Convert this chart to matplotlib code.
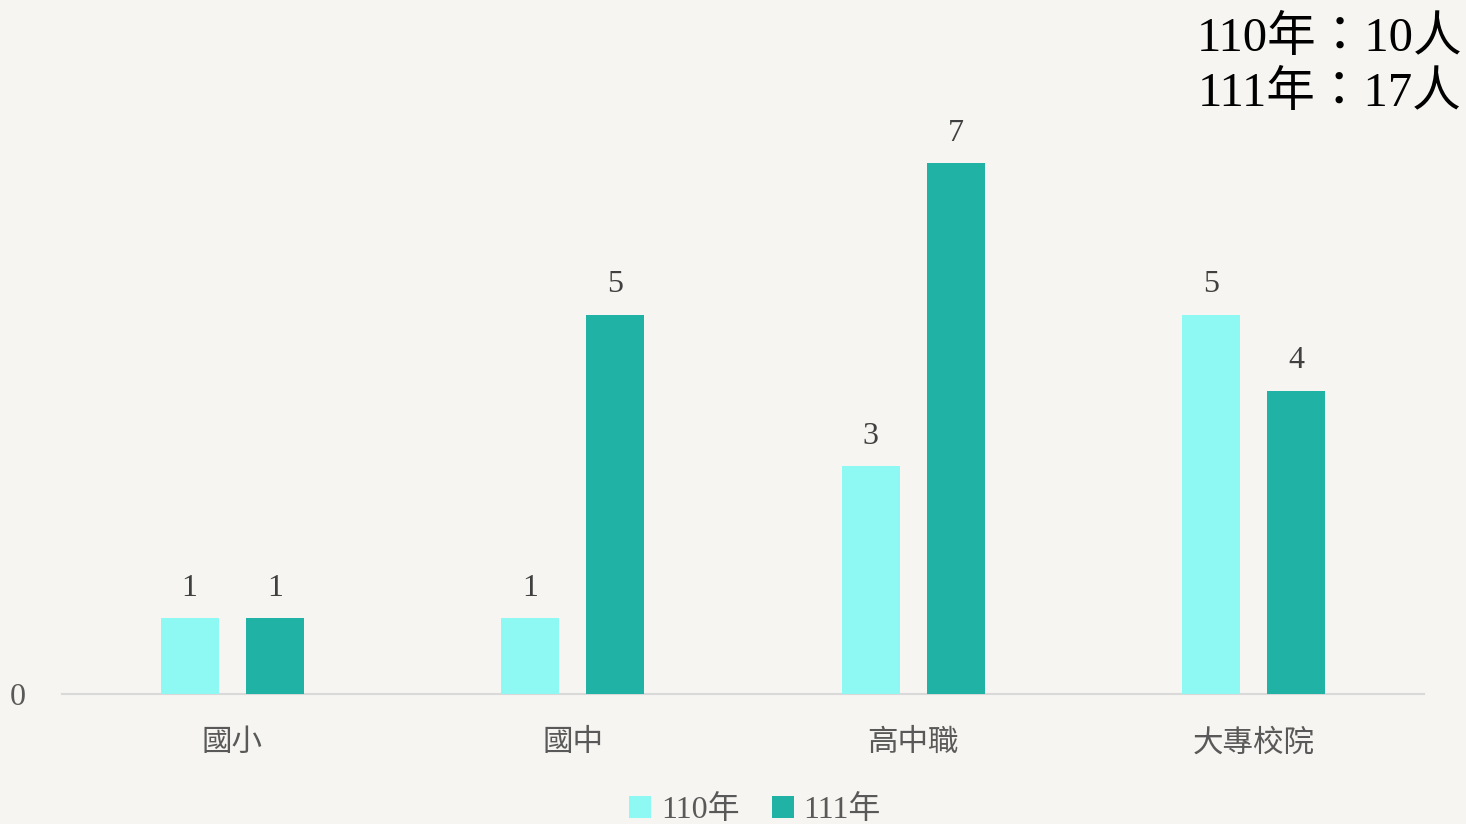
import matplotlib
matplotlib.use("Agg")
import matplotlib.pyplot as plt
import numpy as np
from matplotlib.patches import Patch

categories = ["國小", "國中", "高中職", "大專校院"]
series_names = ["110年", "111年"]
values_110 = [1, 1, 3, 5]
values_111 = [1, 5, 7, 4]
summary_lines = ["110年：10人", "111年：17人"]

c110 = "#8EF9F3"
c111 = "#20B2A4"
bg = "#F7F5F1"
serif = ["Liberation Serif", "Noto Sans CJK TC"]
cjk = ["Noto Sans CJK TC", "DejaVu Sans"]

fig = plt.figure(figsize=(14.66, 8.24), dpi=100, facecolor=bg)
ax = fig.add_axes([62/1466, 1-694/824, (1424-62)/1466, (694-87)/824])
ax.set_facecolor(bg)

x = np.arange(len(categories))
w = 0.17
off = 0.125
b1 = ax.bar(x - off, values_110, w, color=c110, zorder=3)
b2 = ax.bar(x + off, values_111, w, color=c111, zorder=3)

for bars, vals in ((b1, values_110), (b2, values_111)):
    for r, v in zip(bars, vals):
        ax.annotate(str(v), (r.get_x() + r.get_width()/2, v), xytext=(0, 11),
                    textcoords="offset points", ha="center", va="bottom",
                    fontsize=23, color="#404040", family=serif)

ax.set_xlim(-0.5, 3.5)
ax.set_ylim(0, 8)
for s in ["top", "right", "left"]:
    ax.spines[s].set_visible(False)
ax.spines["bottom"].set_color("#D9D9D9")
ax.spines["bottom"].set_linewidth(1.5)
ax.set_yticks([0])
ax.set_yticklabels(["0"], family=serif, fontsize=23, color="#595959")
ax.tick_params(axis="y", length=0, pad=26)
ax.set_xticks(x)
ax.set_xticklabels(categories, family=cjk, fontsize=22, color="#595959",
                   fontweight="light")
ax.tick_params(axis="x", length=0, pad=24)

handles = [Patch(facecolor=c110, label=series_names[0]), Patch(facecolor=c111, label=series_names[1])]
leg = fig.legend(handles=handles, loc="center", bbox_to_anchor=(755/1466, 1-810/824),
                 ncol=2, frameon=False, handlelength=0.7, handleheight=0.7,
                 handletextpad=0.3, columnspacing=1.0,
                 prop={"family": serif, "size": 23})
for t in leg.get_texts():
    t.set_color("#595959")

fig.text(1462/1466, 1-38/824, summary_lines[0], ha="right", va="center",
         fontsize=35, color="black", family=serif)
fig.text(1462/1466, 1-93/824, summary_lines[1], ha="right", va="center",
         fontsize=35, color="black", family=serif)

fig.savefig("out.png", dpi=100, facecolor=bg)
